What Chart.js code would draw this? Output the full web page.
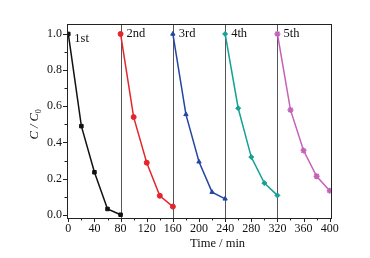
<!DOCTYPE html>
<html>
<head>
<meta charset="utf-8">
<script src="https://cdn.jsdelivr.net/npm/chart.js@4/dist/chart.umd.min.js"></script>
<style>
  html, body { margin: 0; padding: 0; background: #fff; }
  #wrap { width: 370px; height: 258px; position: relative; }
</style>
</head>
<body>
<div id="wrap"><canvas id="cycleChart" width="370" height="258"></canvas></div>
<script>
// cycle data (time in min, C/C0)
const cycleNames = ["1st", "2nd", "3rd", "4th", "5th"];
const time1 = [0, 20, 40, 60, 80];
const time2 = [80, 100, 120, 140, 160];
const time3 = [160, 180, 200, 220, 240];
const time4 = [240, 260, 280, 300, 320];
const time5 = [320, 340, 360, 380, 400];
const ratio1 = [1.0, 0.49, 0.235, 0.032, 0.0];
const ratio2 = [1.0, 0.54, 0.288, 0.105, 0.045];
const ratio3 = [1.0, 0.555, 0.293, 0.125, 0.088];
const ratio4 = [1.0, 0.589, 0.319, 0.175, 0.107];
const ratio5 = [1.0, 0.58, 0.355, 0.213, 0.133];
const cycleBounds = [80, 160, 240, 320];
const xTicks = [0, 40, 80, 120, 160, 200, 240, 280, 320, 360, 400];
const yTicks = [0.0, 0.2, 0.4, 0.6, 0.8, 1.0];

const serif = "'Liberation Serif', 'DejaVu Serif', serif";
const colors = ["#111111", "#e4262c", "#2446a3", "#15a096", "#c462b8"];
const markers = ["rect", "circle", "triangle", "rectRot", "star"];

const times = [time1, time2, time3, time4, time5];
const ratios = [ratio1, ratio2, ratio3, ratio4, ratio5];

const datasets = times.map((t, i) => ({
    label: cycleNames[i],
    data: t.map((x, j) => ({ x: x, y: ratios[i][j] })),
    borderColor: colors[i],
    backgroundColor: colors[i],
    pointStyle: markers[i],
    pointRadius: i === 4 ? 3 : 2.5,
    pointBorderWidth: i === 4 ? 1.5 : 1,
    borderWidth: 1.5,
    tension: 0
}));

// frame, ticks, cycle lines and texts
const decorations = {
    id: "decorations",
    beforeDatasetsDraw(chart) {
        const { ctx, chartArea: a, scales: { x, y } } = chart;
        ctx.save();
        ctx.strokeStyle = "#555";
        ctx.lineWidth = 1;
        cycleBounds.forEach(v => {
            const px = Math.round(x.getPixelForValue(v)) + 0.5;
            ctx.beginPath();
            ctx.moveTo(px, a.top);
            ctx.lineTo(px, a.bottom);
            ctx.stroke();
        });
        ctx.restore();
    },
    afterDraw(chart) {
        const { ctx, chartArea: a, scales: { x, y } } = chart;
        ctx.save();
        ctx.strokeStyle = "#222";
        ctx.lineWidth = 1;
        ctx.strokeRect(Math.round(a.left) + 0.5, Math.round(a.top) + 0.5,
            Math.round(a.right - a.left), Math.round(a.bottom - a.top));

        // x ticks (major every 40, minor every 20)
        ctx.beginPath();
        for (let v = 0; v <= 400; v += 20) {
            const px = Math.round(x.getPixelForValue(v)) + 0.5;
            const len = v % 40 === 0 ? 4 : 2.5;
            ctx.moveTo(px, a.bottom);
            ctx.lineTo(px, a.bottom + len);
        }
        // y ticks (major every 0.2, minor every 0.1)
        for (let k = 0; k <= 10; k++) {
            const py = Math.round(y.getPixelForValue(k / 10)) + 0.5;
            const len = k % 2 === 0 ? 4 : 2.5;
            ctx.moveTo(a.left, py);
            ctx.lineTo(a.left - len, py);
        }
        ctx.stroke();

        ctx.fillStyle = "#111";
        ctx.font = "12px " + serif;
        ctx.textBaseline = "middle";
        ctx.textAlign = "right";
        yTicks.forEach(v => {
            ctx.fillText(v.toFixed(1), a.left - 5, y.getPixelForValue(v));
        });
        ctx.textAlign = "center";
        ctx.textBaseline = "top";
        xTicks.forEach(v => {
            ctx.fillText(String(v), x.getPixelForValue(v), a.bottom + 5);
        });

        // cycle labels
        ctx.textAlign = "left";
        ctx.textBaseline = "middle";
        ctx.font = "12.5px " + serif;
        const starts = [0].concat(cycleBounds);
        starts.forEach((v, i) => {
            const py = y.getPixelForValue(i === 0 ? 0.975 : 1.0);
            ctx.fillText(cycleNames[i], x.getPixelForValue(v) + 6, py);
        });

        // x title
        ctx.font = "12.5px " + serif;
        ctx.textAlign = "left";
        ctx.textBaseline = "middle";
        ctx.fillText("Time / min", 190, 244);

        // y title C / C0 rotated
        ctx.translate(35, y.getPixelForValue(0.5));
        ctx.rotate(-Math.PI / 2);
        ctx.font = "italic 12.5px " + serif;
        ctx.textAlign = "left";
        const main = "C / C";
        const w = ctx.measureText(main).width;
        const sub = "0";
        ctx.font = "8px " + serif;
        const ws = ctx.measureText(sub).width;
        const start = -(w + ws) / 2;
        ctx.font = "italic 12.5px " + serif;
        ctx.fillText(main, start, 0);
        ctx.font = "8px " + serif;
        ctx.fillText(sub, start + w, 4);
        ctx.restore();
    }
};

const ctx = document.getElementById("cycleChart").getContext("2d");

new Chart(ctx, {
    type: "line",
    data: { datasets: datasets },
    options: {
        responsive: false,
        animation: false,
        devicePixelRatio: 1,
        layout: { padding: { left: 0, right: 39, top: 24, bottom: 0 } },
        plugins: {
            legend: { display: false },
            tooltip: { enabled: false }
        },
        scales: {
            x: {
                type: "linear",
                min: -2,
                max: 402,
                grid: { display: false },
                border: { display: false },
                ticks: { display: false },
                afterFit: s => { s.height = 40; }
            },
            y: {
                min: -0.018,
                max: 1.055,
                grid: { display: false },
                border: { display: false },
                ticks: { display: false },
                afterFit: s => { s.width = 67; }
            }
        }
    },
    plugins: [decorations]
});
</script>
</body>
</html>
